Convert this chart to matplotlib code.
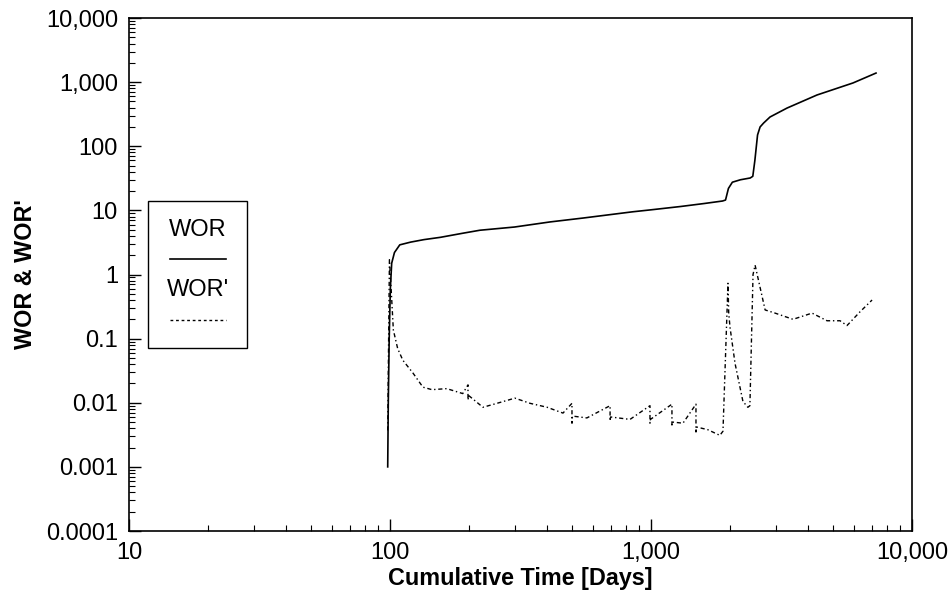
import matplotlib
matplotlib.use('Agg')
import matplotlib.pyplot as plt
from matplotlib.ticker import LogLocator, FuncFormatter, NullFormatter
from matplotlib.patches import Rectangle
from matplotlib.lines import Line2D

plt.rcParams['font.family'] = ['Liberation Sans', 'DejaVu Sans']

# WOR (solid)
wor_t = [98, 98.5, 99.3, 100.3, 101.5, 104, 109, 120, 135, 156, 190, 221, 300, 410,
         550, 700, 850, 1000, 1300, 1600, 1880, 1930, 1980, 2050, 2200, 2400, 2455,
         2500, 2560, 2618, 2700, 2858, 3320, 4325, 5940, 7280]
wor = [0.001, 0.01, 0.1, 0.6, 1.5, 2.2, 2.9, 3.2, 3.5, 3.8, 4.4, 4.9, 5.5, 6.6,
       7.6, 8.6, 9.5, 10.2, 11.5, 12.8, 14.0, 14.5, 22, 27.5, 30, 32, 34,
       60, 150, 200, 230, 286, 394, 630, 970, 1385]

# WOR' (derivative, dashed)
deriv_t = [98, 99.5, 101, 103, 107, 112, 122.5, 133.7, 144.8, 165,
           190, 199, 199, 200, 227, 257, 301, 344, 400, 460,
           498, 498, 500, 568, 697, 697, 700, 831, 991, 991,
           995, 1203, 1203, 1207, 1326, 1487, 1487, 1490, 1650, 1836,
           1887, 1972, 1985, 2008, 2099, 2250, 2350, 2393, 2460, 2505,
           2737, 2988, 3500, 4140, 4725, 5300, 5637, 6310, 7030]
deriv = [0.0037, 1.7, 0.6, 0.136, 0.07, 0.046, 0.029, 0.0175, 0.016, 0.0166,
         0.0139, 0.019, 0.011, 0.013, 0.0085, 0.0098, 0.0118, 0.0098, 0.0085, 0.0069,
         0.0098, 0.0048, 0.0062, 0.0058, 0.009, 0.0052, 0.006, 0.0055, 0.009, 0.0048,
         0.0055, 0.0095, 0.0045, 0.005, 0.0048, 0.0095, 0.0035, 0.0042, 0.0038, 0.0031,
         0.0036, 0.73, 0.25, 0.15, 0.041, 0.0105, 0.0085, 0.009, 1.0, 1.4,
         0.28, 0.25, 0.2, 0.25, 0.19, 0.19, 0.16, 0.26, 0.4]

fig = plt.figure(figsize=(9.53, 6.01), dpi=100)
ax = fig.add_axes([129/953, 1-531/601, (912-129)/953, (531-18)/601])

ax.plot(wor_t, wor, color='black', lw=1.2)
ax.plot(deriv_t, deriv, color='black', lw=1.0, linestyle=(0, (3, 2, 1, 2)))

ax.set_xscale('log')
ax.set_yscale('log')
ax.set_xlim(10, 10000)
ax.set_ylim(0.0001, 10000)

def fmt(v, pos):
    if v >= 1:
        return '{:,.0f}'.format(v)
    return '{:g}'.format(v)

for a in (ax.xaxis, ax.yaxis):
    a.set_major_locator(LogLocator(base=10, numticks=20))
    a.set_minor_locator(LogLocator(base=10, subs=range(2, 10), numticks=20))
    a.set_major_formatter(FuncFormatter(fmt))
    a.set_minor_formatter(NullFormatter())

ax.tick_params(which='both', direction='in', top=False, right=False, labelsize=17)
ax.tick_params(which='major', length=8.5, width=1, pad=8)
ax.tick_params(which='minor', length=4.5, width=0.8)
for s in ax.spines.values():
    s.set_linewidth(1.2)

ax.set_xlabel('Cumulative Time [Days]', fontsize=16.8, fontweight='bold', labelpad=2)
ax.set_ylabel("WOR & WOR'", fontsize=16.8, fontweight='bold', labelpad=6)

# custom legend box
ax.add_patch(Rectangle((0.0243, 0.357), 0.1264, 0.286, transform=ax.transAxes,
                       fill=False, edgecolor='black', lw=1.0, zorder=5))
ax.text(0.0876, 0.587, 'WOR', transform=ax.transAxes, ha='center', va='center', fontsize=17)
ax.add_line(Line2D([0.052, 0.124], [0.530, 0.530], transform=ax.transAxes,
                   color='black', lw=1.2))
ax.text(0.0876, 0.470, "WOR'", transform=ax.transAxes, ha='center', va='center', fontsize=17)
ax.add_line(Line2D([0.052, 0.124], [0.411, 0.411], transform=ax.transAxes,
                   color='black', lw=1.0, linestyle=(0, (2, 2))))

plt.savefig('out.png', dpi=100)
